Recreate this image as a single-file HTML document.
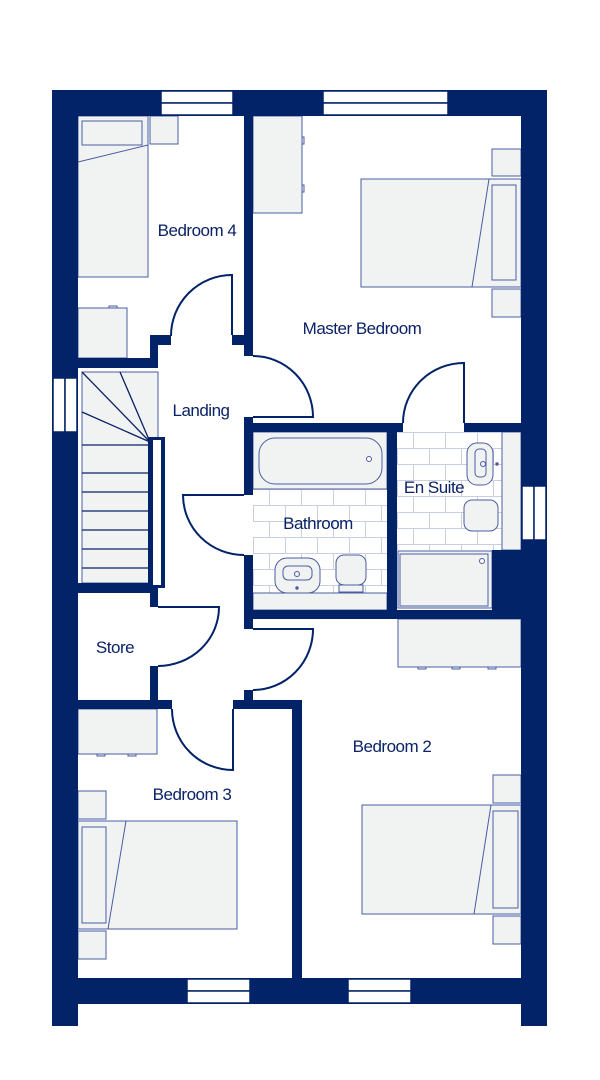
<!DOCTYPE html>
<html><head><meta charset="utf-8"><style>
html,body{margin:0;padding:0;background:#fff;}
svg{display:block}
text{font-family:"Liberation Sans",sans-serif;font-size:17px;fill:#0a2266;text-anchor:middle;letter-spacing:-0.5px}
</style></head><body>
<svg width="600" height="1080" viewBox="0 0 600 1080" xmlns="http://www.w3.org/2000/svg">
<defs>
<pattern id="tile" x="253" y="489" width="32" height="32" patternUnits="userSpaceOnUse">
<rect width="32" height="32" fill="#fff"/>
<path d="M0 0.5H32M0 16.5H32M16.5 0V16M0.5 16V32" stroke="#c9cfe0" stroke-width="1" fill="none"/>
</pattern>
<pattern id="tile2" x="397" y="432" width="32" height="32" patternUnits="userSpaceOnUse">
<rect width="32" height="32" fill="#fff"/>
<path d="M0 0.5H32M0 16.5H32M16.5 0V16M0.5 16V32" stroke="#c9cfe0" stroke-width="1" fill="none"/>
</pattern>
</defs>
<g fill="#f1f3f3" stroke="#4a5ca0" stroke-width="1">
<rect x="253" y="489" width="134" height="105" fill="url(#tile)" stroke="none"/>
<rect x="397" y="432" width="105" height="118" fill="url(#tile2)" stroke="none"/>
<rect x="253" y="432" width="134" height="57"/>
<rect x="259" y="438" width="123" height="46" rx="16"/>
<circle cx="369" cy="459" r="2.5" fill="#fff"/>
<rect x="253" y="593" width="134" height="17"/>
<rect x="275" y="558" width="45" height="35" rx="12"/>
<rect x="283" y="566" width="29" height="14" rx="5"/>
<circle cx="297" cy="574" r="2.5"/><circle cx="297" cy="588" r="1.2" fill="#4a5ca0"/>
<rect x="336" y="555" width="30" height="30" rx="8"/>
<rect x="339" y="585" width="24" height="7"/>
<rect x="502" y="432" width="19" height="118"/>
<rect x="467" y="443" width="26" height="42" rx="10"/>
<rect x="475" y="449" width="11" height="28" rx="4"/>
<circle cx="483" cy="464" r="2.5"/><circle cx="497" cy="464" r="1.2" fill="#4a5ca0"/>
<rect x="464" y="500" width="34" height="31" rx="8"/>
<rect x="398" y="551" width="94" height="57"/>
<rect x="400" y="554" width="88" height="52" fill="none"/>
<circle cx="482" cy="561" r="2.5" fill="#fff"/>
<rect x="398" y="619" width="123" height="48"/>
<rect x="78" y="116" width="70" height="161"/>
<rect x="82" y="121" width="60" height="24"/>
<path d="M78 162L148 145" fill="none"/>
<rect x="150" y="116" width="28" height="28"/>
<rect x="78" y="308" width="49" height="50"/>
<rect x="109" y="306" width="8" height="2"/>
<rect x="253" y="116" width="49" height="97"/>
<rect x="302" y="137" width="2" height="7"/><rect x="302" y="185" width="2" height="7"/>
<rect x="361" y="179" width="160" height="108"/>
<path d="M489 179L472 287" fill="none"/>
<rect x="492" y="185" width="24" height="95"/>
<rect x="492" y="149" width="29" height="27"/>
<rect x="492" y="289" width="29" height="28"/>
<rect x="82" y="372" width="76" height="211"/>
<path d="M82 445H150M82 473H150M82 492H150M82 511H150M82 530H150M82 549H150M82 568H150M150 442L82 372M150 442L120 372M150 442L82 412" fill="none" stroke="#0a2266" stroke-width="1.3"/>
<rect x="78" y="709" width="79" height="45"/>
<rect x="97" y="754" width="8" height="2"/><rect x="128" y="754" width="8" height="2"/>
<rect x="78" y="791" width="28" height="28"/>
<rect x="78" y="821" width="159" height="108"/>
<path d="M126 821L108 929" fill="none"/>
<rect x="82" y="827" width="24" height="96"/>
<rect x="78" y="931" width="28" height="28"/>
<rect x="362" y="805" width="159" height="109"/>
<path d="M491 805L474 914" fill="none"/>
<rect x="493" y="811" width="25" height="97"/>
<rect x="493" y="775" width="28" height="28"/>
<rect x="493" y="916" width="28" height="28"/>
<rect x="418" y="667" width="8" height="2"/><rect x="452" y="667" width="8" height="2"/><rect x="488" y="667" width="8" height="2"/>
</g>
<g fill="#022368">
<rect x="52" y="90" width="26" height="936"/>
<rect x="521" y="90" width="26" height="936"/>
<rect x="52" y="90" width="495" height="26"/>
<rect x="52" y="978" width="495" height="26"/>
<rect x="244" y="116" width="9" height="240"/>
<rect x="232" y="335" width="21" height="10"/>
<rect x="150" y="335" width="21" height="10"/>
<rect x="150" y="335" width="8" height="33"/>
<rect x="78" y="358" width="80" height="10"/>
<rect x="78" y="583" width="80" height="10"/>
<rect x="150" y="583" width="8" height="24"/>
<rect x="150" y="666" width="8" height="43"/>
<rect x="78" y="700" width="94" height="9"/>
<rect x="148" y="437" width="17" height="151"/>
<rect x="244" y="417" width="9" height="78"/>
<rect x="244" y="423" width="159" height="9"/>
<rect x="464" y="423" width="57" height="9"/>
<rect x="387" y="432" width="10" height="178"/>
<rect x="492" y="550" width="29" height="60"/>
<rect x="244" y="555" width="9" height="74"/>
<rect x="244" y="610" width="277" height="9"/>
<rect x="244" y="690" width="9" height="19"/>
<rect x="233" y="700" width="69" height="9"/>
<rect x="292" y="700" width="10" height="278"/>
</g>
<g fill="#fff" stroke="#022368" stroke-width="1.5">
<rect x="161" y="91" width="72" height="12"/><rect x="161" y="103" width="72" height="12"/>
<rect x="323" y="91" width="125" height="12"/><rect x="323" y="103" width="125" height="12"/>
<rect x="53" y="378" width="12" height="54"/><rect x="65" y="378" width="12" height="54"/>
<rect x="522" y="486" width="12" height="54"/><rect x="534" y="486" width="12" height="54"/>
<rect x="187" y="979" width="63" height="12"/><rect x="187" y="991" width="63" height="12"/>
<rect x="348" y="979" width="63" height="12"/><rect x="348" y="991" width="63" height="12"/>
</g>
<rect x="153" y="440" width="8" height="145" fill="#fff"/>
<rect x="78" y="1004" width="443" height="30" fill="#fff"/>
<g fill="none" stroke="#022368" stroke-width="2">
<path d="M232 335V275A61 61 0 0 0 171 336"/>
<path d="M253 356A60 61 0 0 1 313 417H253"/>
<path d="M403 423A61 60 0 0 1 464 363V423"/>
<path d="M244 495H183A61 60 0 0 0 244 555"/>
<path d="M158 607H219A61 59 0 0 1 158 666"/>
<path d="M253 629H313A60 61 0 0 1 253 690"/>
<path d="M172 709A61 61 0 0 0 233 770V709"/>
</g>
<text x="197" y="236">Bedroom 4</text>
<text x="362" y="334">Master Bedroom</text>
<text x="201" y="416">Landing</text>
<text x="318" y="529">Bathroom</text>
<text x="434" y="493">En Suite</text>
<text x="115" y="653">Store</text>
<text x="392" y="752">Bedroom 2</text>
<text x="192" y="800">Bedroom 3</text>
</svg>
</body></html>
